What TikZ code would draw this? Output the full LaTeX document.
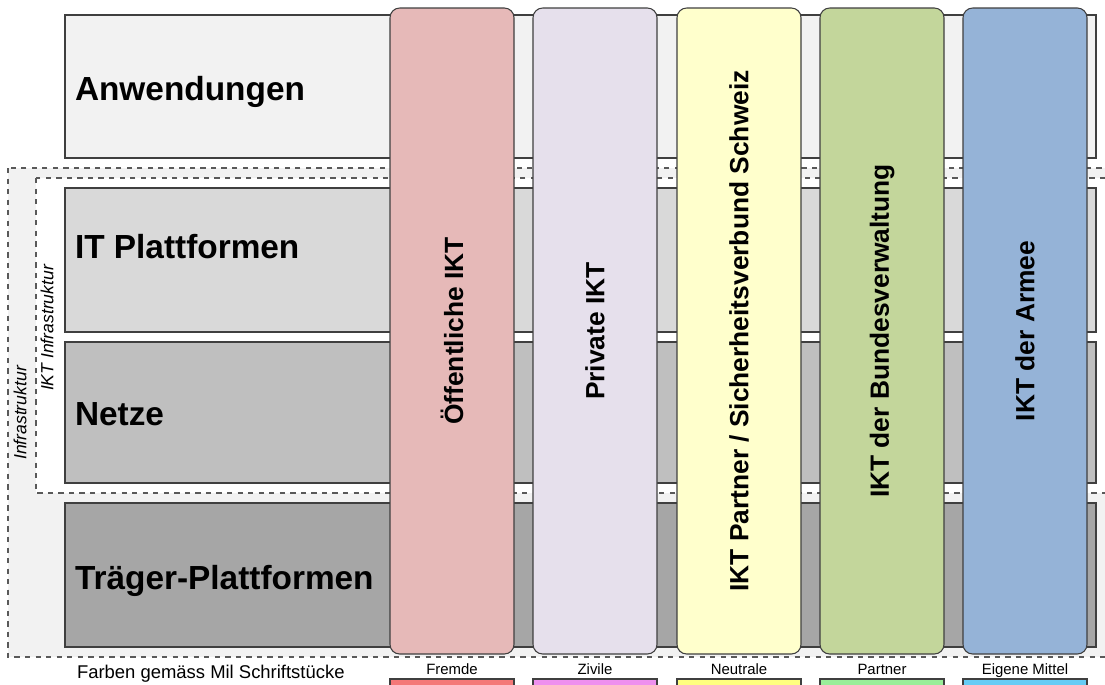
\documentclass[tikz,border=0pt]{standalone}
\usepackage{fontspec}
\setmainfont{Liberation Sans}
\usetikzlibrary{positioning}
\definecolor{AnwGray}{HTML}{F2F2F2}
\definecolor{ITGray}{HTML}{D9D9D9}
\definecolor{NetGray}{HTML}{BFBFBF}
\definecolor{TrGray}{HTML}{A6A6A6}
\definecolor{EdgeGray}{HTML}{3F3F3F}
\definecolor{ColRed}{HTML}{E6B9B8}
\definecolor{ColLilac}{HTML}{E6E0EC}
\definecolor{ColYellow}{HTML}{FFFFCC}
\definecolor{ColGreen}{HTML}{C3D69B}
\definecolor{ColBlue}{HTML}{95B3D7}
\definecolor{LegRed}{HTML}{F47878}
\definecolor{LegViolet}{HTML}{EE90EE}
\definecolor{LegYellow}{HTML}{FFFF80}
\definecolor{LegGreen}{HTML}{99EE99}
\definecolor{LegBlue}{HTML}{66CCF5}

\begin{document}
\begin{tikzpicture}[
  x=0.02cm, y=-0.02cm,
  every node/.style={inner sep=0pt, outer sep=0pt},
  layer/.style={draw=EdgeGray, line width=0.6pt},
  layertext/.style={anchor=base west, font=\fontsize{19}{22}\selectfont\bfseries},
  zone/.style={draw=black!65, dashed, line width=0.6pt},
  zonetext/.style={rotate=90, font=\fontsize{10}{12}\selectfont\itshape},
  colbox/.style={draw=EdgeGray, line width=0.6pt, rounded corners=5.5pt},
  coltext/.style={rotate=90, font=\fontsize{15}{17}\selectfont\bfseries},
  legbar/.style={draw=EdgeGray, line width=0.6pt},
  legtext/.style={anchor=base, font=\fontsize{8.5}{10}\selectfont}
]
\useasboundingbox (0,0) rectangle (1105,684);
\clip (0,0) rectangle (1105,684);

%% zones (dashed)
\draw[zone, fill=AnwGray] (8,168) rectangle (1120,657);
\draw[zone, fill=white] (36,178) rectangle (1120,493);
\node[zonetext] (infra) at (20,413) {Infrastruktur};
\node[zonetext] (iktinfra) at (47,328) {IKT Infrastruktur};

%% layers
\draw[layer, fill=AnwGray] (65,15) rectangle (1096,158);
\draw[layer, fill=ITGray] (65,188) rectangle (1096,332);
\draw[layer, fill=NetGray] (65,342) rectangle (1096,483);
\draw[layer, fill=TrGray] (65,503) rectangle (1096,647);
\node[layertext] (anw) at (75,100) {Anwendungen};
\node[layertext] (itp) at (75,258) {IT Plattformen};
\node[layertext] (netze) at (75,425) {Netze};
\node[layertext] (traeger) at (75,589) {Träger-Plattformen};

%% columns
\foreach \x/\c/\n/\t in {390/ColRed/oeff/{Öffentliche IKT},
                         533/ColLilac/priv/{Private IKT},
                         677/ColYellow/partner/{IKT Partner / Sicherheitsverbund Schweiz},
                         820/ColGreen/bund/{IKT der Bundesverwaltung},
                         963/ColBlue/armee/{IKT der Armee}} {
  \draw[colbox, fill=\c] (\x,8) rectangle ++(124,646);
  \node[coltext] (\n) at (\x+62,331) {\t};
}

%% legend
\node[anchor=base west, font=\fontsize{10.5}{12}\selectfont] (legtitle) at (77,678) {Farben gemäss Mil Schriftstücke};
\foreach \x/\c/\n/\t in {390/LegRed/fremde/Fremde,
                         533/LegViolet/zivile/Zivile,
                         677/LegYellow/neutrale/Neutrale,
                         820/LegGreen/partnerleg/Partner,
                         963/LegBlue/eigene/{Eigene Mittel}} {
  \node[legtext] (\n) at (\x+62,674) {\t};
  \draw[legbar, fill=\c] (\x,679) rectangle ++(124,12);
}
\end{tikzpicture}
\end{document}
